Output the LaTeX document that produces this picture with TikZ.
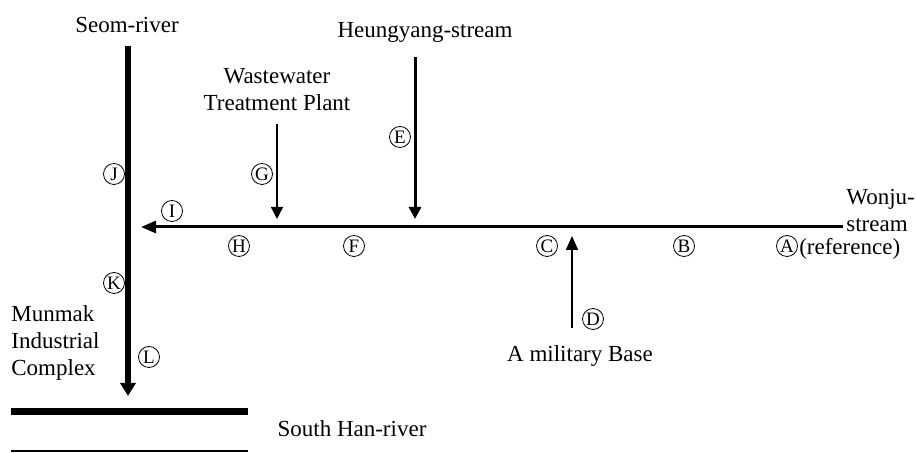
\documentclass[tikz,border=0pt]{standalone}
\usepackage{fontspec}
\setmainfont{Liberation Serif}
\usetikzlibrary{arrows.meta}
\tikzset{
    site/.style={circle, draw, line width=0.4pt, inner sep=0pt, minimum size=10.5pt,
        font=\fontsize{9.5}{10}\selectfont},
    txt/.style={inner sep=0pt},
    river/.style={line width=3pt},
    stream/.style={line width=1.5pt},
    inflow/.style={line width=0.75pt},
}

\begin{document}
\begin{tikzpicture}[x=0.5pt, y=-0.5pt, font=\fontsize{11.5}{13.5}\selectfont]
    \useasboundingbox (0,0) rectangle (916,453);

    % --- Seom-river ---
    \node[txt, anchor=base] (seom) at (127,33) {Seom-river};
    \coordinate (seomtop) at (128,46);
    \coordinate (seomend) at (128,396);
    \draw[river, -{Triangle[length=6.5pt,width=7.5pt]}] (seomtop) -- (seomend);

    % --- Wonju-stream ---
    \node[txt, anchor=west, align=left] (wonju) at (846,211) {Wonju-\\stream};
    \coordinate (wonjuend) at (843,227);
    \coordinate (confluence) at (141,227);
    \draw[stream, -{Triangle[length=7.5pt,width=6pt]}] (wonjuend) -- (confluence);

    % --- Heungyang-stream ---
    \node[txt, anchor=base] (heung) at (425,38) {Heungyang-stream};
    \coordinate (heungtop) at (415,57);
    \coordinate (heungend) at (415,219);
    \draw[stream, -{Triangle[length=6pt,width=6pt]}] (heungtop) -- (heungend);

    % --- Wastewater Treatment Plant ---
    \node[txt, align=center] (wwtp) at (277,90) {Wastewater\\Treatment Plant};
    \coordinate (wwtptop) at (277,124);
    \coordinate (wwtpend) at (277,219);
    \draw[inflow, -{Triangle[length=6pt,width=6pt]}] (wwtptop) -- (wwtpend);

    % --- A military Base ---
    \node[txt, anchor=base] (base) at (580,362) {A military Base};
    \coordinate (basebot) at (572,328);
    \coordinate (baseend) at (572,236);
    \draw[inflow, -{Triangle[length=7pt,width=6pt]}] (basebot) -- (baseend);

    % --- Munmak Industrial Complex ---
    \node[txt, anchor=west, align=left] (munmak) at (11,343) {Munmak\\Industrial\\Complex};

    % --- South Han-river ---
    \coordinate (hanleft) at (11,412);
    \coordinate (hanright) at (248,412);
    \coordinate (banksw) at (11,451.5);
    \coordinate (bankse) at (248,451.5);
    \draw[line width=3.5pt] (hanleft) -- (hanright);
    \draw[line width=1pt] (banksw) -- (bankse);
    \node[txt, anchor=base] (han) at (352,437) {South Han-river};

    % --- sampling sites ---
    \node[site] (A) at (787,246) {A};
    \node[txt, anchor=base west, xshift=0.5pt] (ref) at (A.east |- 0,255) {(reference)};
    \node[site] (B) at (684,246) {B};
    \node[site] (C) at (547,246) {C};
    \node[site] (D) at (593,319) {D};
    \node[site] (E) at (400,137) {E};
    \node[site] (F) at (354,246) {F};
    \node[site] (G) at (262,174) {G};
    \node[site] (H) at (239,246) {H};
    \node[site] (I) at (172,211) {I};
    \node[site] (J) at (114,174) {J};
    \node[site] (K) at (114,283) {K};
    \node[site] (L) at (149,357) {L};

\end{tikzpicture}
\end{document}
